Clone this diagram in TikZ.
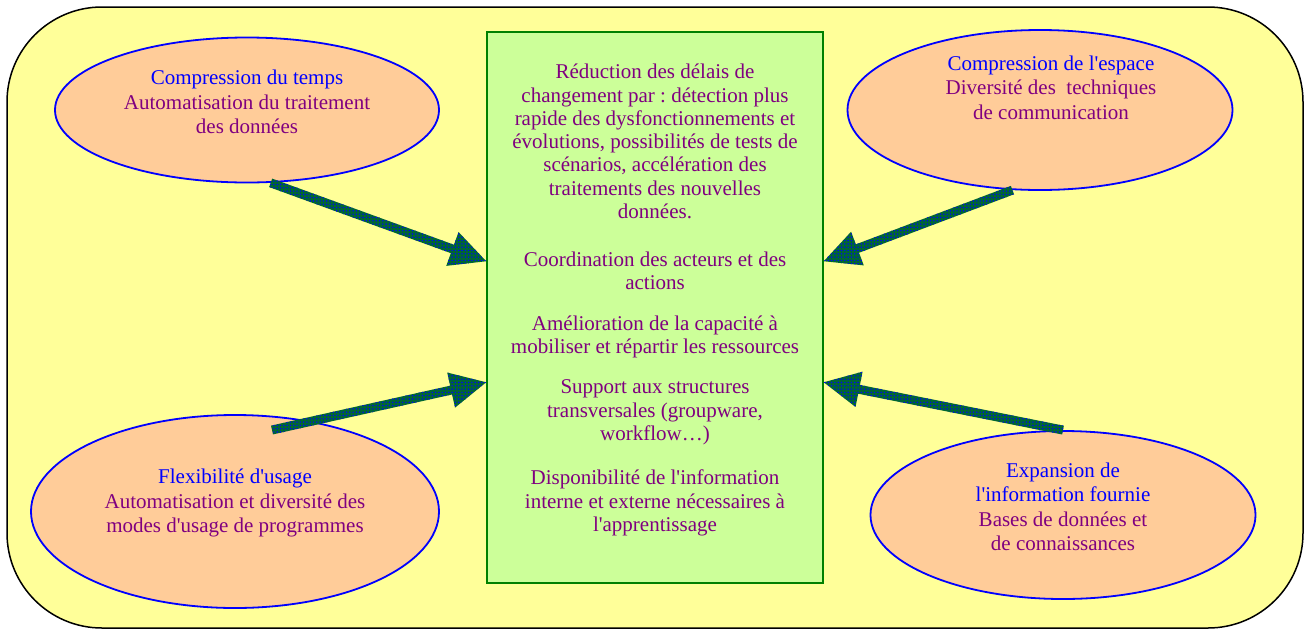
\documentclass[tikz,border=0pt]{standalone}
\usepackage{fontspec}
\setmainfont{Liberation Serif}
\usetikzlibrary{positioning,calc,patterns,shapes.geometric}
\frenchspacing

\definecolor{bgyellow}{RGB}{255,255,153}
\definecolor{boxgreen}{RGB}{204,255,153}
\definecolor{edgegreen}{RGB}{0,128,0}
\definecolor{peach}{RGB}{255,204,153}
\definecolor{titleblue}{RGB}{0,0,255}
\definecolor{textpurple}{RGB}{128,0,128}
\definecolor{arrowgreen}{RGB}{0,102,51}

\pgfdeclarepatternformonly{bigdots}{\pgfqpoint{-1.5pt}{-1.5pt}}{\pgfqpoint{1.5pt}{1.5pt}}{\pgfqpoint{3.3pt}{3.3pt}}%
  {\pgfpathcircle{\pgfqpoint{0pt}{0pt}}{.8pt}\pgfusepath{fill}}

\newcommand{\q}{\textquotesingle}

% fat dotted arrow: start, tip, name of head base
\newcommand{\fatarrow}[3]{%
  \coordinate (#3) at ($(#2)!36pt!(#1)$);
  \path[fatfill] ($(#1)!4.5pt!90:(#2)$) -- ($(#3)!4.5pt!90:(#2)$) -- ($(#3)!18pt!90:(#2)$) -- (#2)
    -- ($(#3)!18pt!-90:(#2)$) -- ($(#3)!4.5pt!-90:(#2)$) -- ($(#1)!4.5pt!-90:(#2)$) -- cycle;}

\begin{document}
\begin{tikzpicture}[x=1pt,y=-1pt,
    bubble/.style={ellipse, draw=titleblue, line width=1.8pt, fill=peach, inner sep=0pt},
    bubbletext/.style={align=center, text=textpurple, font=\fontsize{21}{24.5}\selectfont},
    boxtext/.style={align=center, text=textpurple, font=\fontsize{21}{23.3}\selectfont},
    fatfill/.style={preaction={fill=arrowgreen}, pattern=bigdots, pattern color=titleblue}]
		\useasboundingbox (0,0) rectangle (1307,630);
		\draw[line width=1.5pt, fill=bgyellow, rounded corners=95pt] (7,7) rectangle (1303,628);
		
		%ellipses
		\node (tl) [bubble, minimum width=384pt, minimum height=145pt] at (247,110) {};
		\node (tr) [bubble, minimum width=385pt, minimum height=160pt] at (1040,110) {};
		\node (bl) [bubble, minimum width=408pt, minimum height=193pt] at (235,511.5) {};
		\node (br) [bubble, minimum width=385pt, minimum height=168pt] at (1063,515) {};
		
		\node (tltext) [bubbletext] at (247,102) {\textcolor{titleblue}{Compression du temps}\\Automatisation du traitement\\des données};
		\node (trtext) [bubbletext] at (1051,87.5) {\textcolor{titleblue}{Compression de l\q espace}\\Diversité des\ \ techniques\\de communication};
		\node (bltext) [bubbletext] at (235,503) {\textcolor{titleblue}{Flexibilité d\q usage}\\Automatisation et diversité des\\modes d\q usage de programmes};
		\node (brtext) [bubbletext] at (1063,507) {\textcolor{titleblue}{Expansion de}\\\textcolor{titleblue}{l\q information fournie}\\Bases de données et\\de connaissances};
		
		%central box
		\node (box) [draw=edgegreen, line width=1.5pt, fill=boxgreen, minimum width=336pt, minimum height=551pt, inner sep=0pt] at (655,307.5) {};
		\node (p1) [boxtext] at (655,141.5) {Réduction des délais de\\changement par : détection plus\\rapide des dysfonctionnements et\\évolutions, possibilités de tests de\\scénarios, accélération des\\traitements des nouvelles\\données.};
		\node (p2) [boxtext] at (655,271) {Coordination des acteurs et des\\actions};
		\node (p3) [boxtext] at (655,337) {Amélioration de la capacité à\\mobiliser et répartir les ressources};
		\node (p4) [boxtext] at (655,412.5) {Support aux structures\\transversales (groupware,\\workflow…)};
		\node (p5) [boxtext] at (655,503) {Disponibilité de l\q information\\interne et externe nécessaires à\\l\q apprentissage};
		
		%arrows
		\coordinate (s1) at (tl.-72);
		\coordinate (s2) at (tr.-109);
		\coordinate (s3) at (272,430);
		\coordinate (s4) at (br.north);
		\coordinate (t1) at ($(box.north west)+(0,230)$);
		\coordinate (t2) at ($(box.north east)+(0,230)$);
		\coordinate (t3) at ($(box.north west)+(0,351)$);
		\coordinate (t4) at ($(box.north east)+(0,351)$);
		\fatarrow{s1}{t1}{h1}
		\fatarrow{s2}{t2}{h2}
		\fatarrow{s3}{t3}{h3}
		\fatarrow{s4}{t4}{h4}
\end{tikzpicture}
\end{document}
